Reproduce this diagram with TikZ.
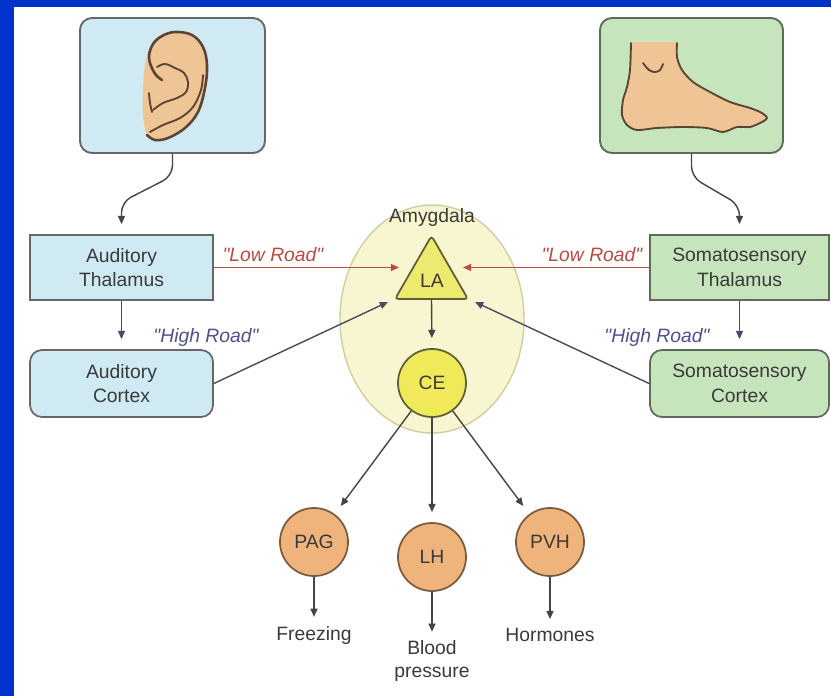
\documentclass[tikz,border=0pt]{standalone}
\usepackage{fontspec}
\setmainfont{Liberation Sans}
\newfontfamily\roadfont{Liberation Sans}
\usetikzlibrary{arrows.meta,shapes.geometric}

\definecolor{frameblue}{RGB}{0,51,204}
\definecolor{skyfill}{RGB}{207,234,243}
\definecolor{leaffill}{RGB}{198,229,189}
\definecolor{boxline}{RGB}{103,103,103}
\definecolor{leafline}{RGB}{96,106,90}
\definecolor{skin}{RGB}{239,197,149}
\definecolor{skinline}{RGB}{90,69,53}
\definecolor{amygfill}{RGB}{248,246,208}
\definecolor{amygline}{RGB}{207,207,160}
\definecolor{lafill}{RGB}{238,234,112}
\definecolor{laline}{RGB}{95,95,53}
\definecolor{cefill}{RGB}{240,234,90}
\definecolor{orfill}{RGB}{239,180,124}
\definecolor{orline}{RGB}{123,91,62}
\definecolor{txt}{RGB}{58,58,58}
\definecolor{lowred}{RGB}{185,75,65}
\definecolor{hightxt}{RGB}{80,80,140}
\definecolor{arrowgray}{RGB}{69,69,69}
\definecolor{highline}{RGB}{74,74,100}

\newcommand\diagfont{\fontsize{16.5}{21}\selectfont}
\newcommand\outfont{\fontsize{16.5}{19}\selectfont}

\begin{document}
\begin{tikzpicture}[x=0.03cm,y=-0.03cm,
  every node/.style={text=txt},
  lbl/.style={font=\diagfont, align=center},
  thalbox/.style={lbl, draw=boxline, line width=1.5pt, minimum width=5.49cm, minimum height=1.95cm},
  cortbox/.style={thalbox, rounded corners=0.36cm, minimum height=2.01cm},
  picbox/.style={draw=boxline, line width=1.6pt, rounded corners=0.36cm, minimum width=5.55cm, minimum height=4.05cm},
  nucleus/.style={lbl, circle, line width=1.5pt, minimum size=2.04cm, inner sep=0pt},
  outcome/.style={font=\outfont, align=center},
  tip/.style={-{Triangle[length=7pt,width=6pt]}},
  conn/.style={draw=arrowgray, line width=1.2pt, tip, shorten >=3mm},
  lowroad/.style={draw=lowred, line width=1.2pt, tip},
  highroad/.style={draw=highline, line width=1.2pt, tip},
  roadtxt/.style={font=\roadfont\diagfont\itshape},
  earline/.style={draw=skinline, line width=1.6pt, line cap=round, line join=round},
]
\useasboundingbox (0,0) rectangle (831,696);
\fill[white] (0,0) rectangle (831,696);
\fill[frameblue] (0,0) rectangle (14,696);
\fill[frameblue] (0,0) rectangle (831,7);

% amygdala region
\node[ellipse, draw=amygline, fill=amygfill, line width=1.2pt,
      minimum width=5.52cm, minimum height=6.84cm] (amyg) at (432,319) {};
\node[lbl] (amygtxt) at (432,217) {Amygdala};

% sense organ panels
\node[picbox, fill=skyfill] (earbox) at (172.5,85.5) {};
\node[picbox, fill=leaffill, draw=leafline, minimum width=5.49cm] (footbox) at (691.5,85.5) {};

% ear
\fill[skin] plot[smooth cycle, tension=0.6] coordinates {(147,135) (143,115) (143,90) (145,65) (150,48) (160,36) (175,32) (192,35) (203,47) (207,65) (205,88) (198,112) (185,128) (168,138) (155,140)};
\draw[earline, line width=2.2pt] plot[smooth, tension=0.6] coordinates {(162,80) (156,75) (151,66) (149,56) (153,44) (162,36) (175,32) (192,35) (203,47) (207,65) (205,88) (198,112) (185,128) (168,138) (155,140) (147,135)};
\draw[earline] plot[smooth, tension=0.6] coordinates {(157,67) (165,64) (175,68) (184,73) (188,82) (186,92) (177,98) (163,103) (153,110)};
\draw[earline] plot[smooth, tension=0.6] coordinates {(149,93) (150,103) (152,112)};
\draw[earline] plot[smooth, tension=0.6] coordinates {(150,132) (163,125) (180,118) (193,107) (201,90) (203,75)};

% foot
\fill[skin] (631,42) -- plot[smooth, tension=0.5] coordinates {(631,45) (630,70) (627,87) (623,100) (622,115) (627,125) (637,130) (657,128) (683,127) (707,128) (723,132) (737,127) (750,127) (762,122) (767,118) (762,113) (750,108) (730,102) (710,92) (693,82) (682,70) (677,57) (677,45)} -- (677,42) -- cycle;
\draw[earline] plot[smooth, tension=0.5] coordinates {(631,43) (630,70) (627,87) (623,100) (622,115) (627,125) (637,130) (657,128) (683,127) (707,128) (723,132) (737,127) (750,127) (762,122) (767,118) (762,113) (750,108) (730,102) (710,92) (693,82) (682,70) (677,57) (677,43)};
\draw[earline] plot[smooth, tension=0.6] coordinates {(643,63) (649,70) (655,72) (660,70) (663,64)};

% thalamus and cortex boxes
\node[thalbox, fill=skyfill] (athal) at (121.5,267.5) {Auditory\\Thalamus};
\node[cortbox, fill=skyfill] (actx) at (121.5,383.5) {Auditory\\Cortex};
\node[thalbox, fill=leaffill, draw=leafline, minimum width=5.37cm] (sthal) at (739.5,267.5) {Somatosensory\\Thalamus};
\node[cortbox, fill=leaffill, draw=leafline, minimum width=5.37cm] (sctx) at (739.5,383.5) {Somatosensory\\Cortex};

% amygdala nuclei
\node[lbl, regular polygon, regular polygon sides=3, minimum size=2.53cm, inner sep=0pt,
      draw=laline, fill=lafill, line width=1.5pt, rounded corners=3pt] (la) at (431.5,278) {};
\node[lbl] (latxt) at (432,281) {LA};
\node[nucleus, draw=laline, fill=cefill] (ce) at (432,383) {CE};

% output nuclei
\node[nucleus, draw=orline, fill=orfill] (pag) at (314,542) {PAG};
\node[nucleus, draw=orline, fill=orfill] (lh) at (432,557) {LH};
\node[nucleus, draw=orline, fill=orfill] (pvh) at (550,542) {PVH};

\node[outcome] (frz) at (314,635) {Freezing};
\node[outcome] (bp) at (432,661) {Blood\\pressure};
\node[outcome] (horm) at (550,635) {Hormones};

% arrow end points at LA
\coordinate (laW) at (399,267.5);
\coordinate (laE) at (463,267.5);
\coordinate (laSW) at (388,302);
\coordinate (laSE) at (475,302);

% sensory input paths
\coordinate (e1) at (172.5,176);
\coordinate (e2) at (121.5,202);
\coordinate (f1) at (691.5,177);
\coordinate (f2) at (739.5,205);
\draw[conn, rounded corners=9pt] (earbox.south) -- (e1) -- (e2) -- (athal.north);
\draw[conn, rounded corners=9pt] (footbox.south) -- (f1) -- (f2) -- (sthal.north);

% thalamus to cortex
\draw[conn, draw=highline] (athal.south) -- (actx.north);
\draw[conn, draw=highline] (sthal.south) -- (sctx.north);

% low road and high road
\draw[lowroad] (athal.east) -- (laW);
\draw[lowroad] (sthal.west) -- (laE);
\draw[highroad] (actx.east) -- (laSW);
\draw[highroad] (sctx.west) -- (laSE);
\node[roadtxt, text=lowred] (lowL) at (273,255) {"Low Road"};
\node[roadtxt, text=lowred] (lowR) at (592,255) {"Low Road"};
\node[roadtxt, text=hightxt] (highL) at (206,337) {"High Road"};
\node[roadtxt, text=hightxt] (highR) at (657,337) {"High Road"};

% within the amygdala and outputs
\draw[conn] (la.side 2) -- (ce.north);
\draw[conn] (ce) -- (pag);
\draw[conn] (ce) -- (lh);
\draw[conn] (ce) -- (pvh);
\draw[conn, shorten >=1.5mm] (pag.south) -- (frz.north);
\draw[conn, shorten >=1.5mm] (lh.south) -- (bp.north);
\draw[conn, shorten >=1.5mm] (pvh.south) -- (horm.north);
\end{tikzpicture}
\end{document}
